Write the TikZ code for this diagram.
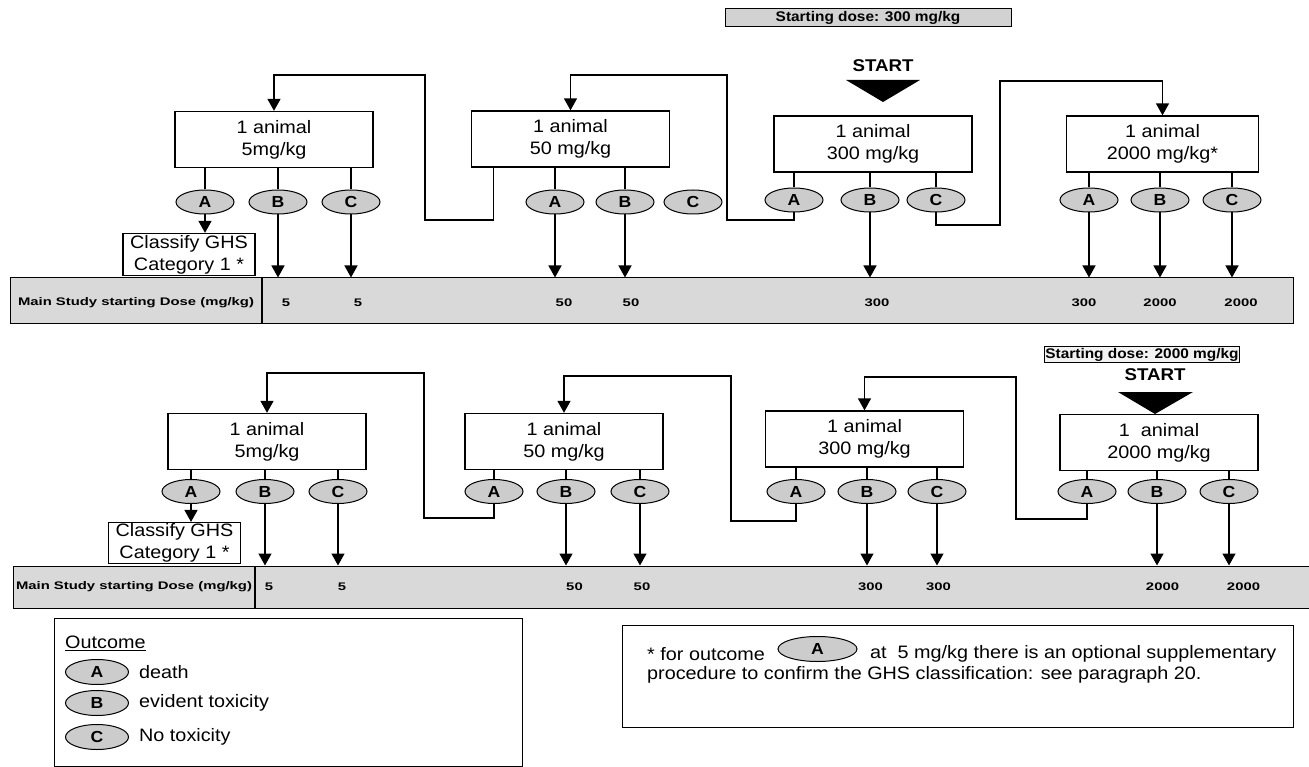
\documentclass[tikz,border=0pt]{standalone}
\usepackage{fontspec}
\setmainfont{Liberation Sans}[FakeStretch=1.1]
\newfontfamily\bandfont{Liberation Sans}[FakeStretch=1.35]
\usetikzlibrary{arrows.meta,shapes.geometric}

\begin{document}
\begin{tikzpicture}[x=1pt, y=-1pt,
    txt/.style={font=\fontsize{18}{22}\selectfont},
    lbl/.style={txt, anchor=west, inner sep=0pt},
    box/.style={draw, line width=1.3pt, minimum width=198pt, minimum height=56pt,
      align=center, inner sep=1pt, txt},
    clbox/.style={box, minimum width=132pt, minimum height=42pt},
    oc/.style={ellipse, draw, line width=1pt, fill=gray!40, minimum width=58pt,
      minimum height=24pt, inner sep=0pt, font=\fontsize{16}{16}\selectfont\bfseries},
    band/.style={draw, line width=1pt, fill=gray!30, inner sep=0pt},
    num/.style={font=\bandfont\bfseries\fontsize{11}{13}\selectfont},
    dosebox/.style={draw, line width=1pt, inner sep=1pt,
      font=\fontsize{14}{15}\selectfont\bfseries},
    gotext/.style={font=\fontsize{17}{17}\selectfont\bfseries},
    lnk/.style={line width=1.4pt},
    arr/.style={lnk, -{Triangle[length=12pt,width=13pt]}}]
  \path[use as bounding box] (0,0) rectangle (1309,767);

  % upper scheme: starting dose 300 mg/kg
  \node[dosebox, fill=gray!35, minimum width=286pt, minimum height=18pt] (sd1) at (868,18)
       {Starting dose: 300 mg/kg};
  \node[gotext] (go1) at (883,66) {START};
  \fill (846,80) -- (920,80) -- (883,102) -- cycle;

  \node[box] (m5)    at (274,139.5) {1 animal\\5mg/kg};
  \node[box] (m50)   at (570.5,139) {1 animal\\50 mg/kg};
  \node[box] (m300)  at (873,144)   {1 animal\\300 mg/kg};
  \node[box, minimum width=192pt] (m2000) at (1162.5,144) {1 animal\\2000 mg/kg*};

  \foreach \n/\x/\y/\l in {m5a/205/202/A, m5b/278/202/B, m5c/351/202/C,
      m50a/555/202/A, m50b/625/202/B, m50c/693/202/C,
      m300a/794/200/A, m300b/870/200/B, m300c/936/200/C,
      m2000a/1089/200/A, m2000b/1160/200/B, m2000c/1232/200/C}
    \node[oc] (\n) at (\x,\y) {\l};

  \node[clbox] (cl1) at (189,254.5) {Classify GHS\\Category 1 *};
  \node[band, minimum width=1283pt, minimum height=45pt] (band1) at (651.5,300.5) {};
  \draw[lnk] (262,278) -- (262,323);
  \node[num] (lab1) at (136,303) {Main Study starting Dose (mg/kg)};
  \foreach \x/\v [count=\i] in {286/5, 358/5, 564/50, 631/50, 877/300, 1084/300,
      1160/2000, 1241/2000}
    \node[num] (d1\i) at (\x,303) {\v};

  \foreach \o/\m in {m5a/m5, m5b/m5, m5c/m5, m50a/m50, m50b/m50,
      m300a/m300, m300b/m300, m300c/m300, m2000a/m2000, m2000b/m2000, m2000c/m2000}
    \draw[lnk] (\o |- \m.south) -- (\o);
  \draw[arr] (m5a) -- (m5a |- cl1.north);
  \foreach \o in {m5b, m5c, m50a, m50b, m300b, m2000a, m2000b, m2000c}
    \draw[arr] (\o) -- (\o |- band1.north);

  \draw[arr] ([xshift=-77pt]m50.south) |- (425,220) |- (m5.north |- 0,75) -- (m5.north);
  \draw[arr] (m300a.south) |- (727,220) |- (m50.north |- 0,75) -- (m50.north);
  \draw[arr] (m300c.south) |- (1000,225) |- (m2000.north |- 0,81) -- (m2000.north);

  % lower scheme: starting dose 2000 mg/kg
  \node[dosebox, fill=gray!10] (sd2) at (1142,354.5) {Starting dose: 2000 mg/kg};
  \node[gotext] (go2) at (1155,375) {START};
  \fill (1118,392) -- (1193,392) -- (1155,414) -- cycle;

  \node[box] (n5)    at (267,441.5)  {1 animal\\5mg/kg};
  \node[box] (n50)   at (564,441.5)  {1 animal\\50 mg/kg};
  \node[box] (n300)  at (864.5,439)  {1 animal\\300 mg/kg};
  \node[box] (n2000) at (1159,442.5) {1\ \ animal\\2000 mg/kg};

  \foreach \n/\x/\l in {n5a/191/A, n5b/265/B, n5c/338/C,
      n50a/494/A, n50b/566/B, n50c/640/C,
      n300a/796/A, n300b/867/B, n300c/937/C,
      n2000a/1087/A, n2000b/1157/B, n2000c/1229/C}
    \node[oc] (\n) at (\x,491.5) {\l};

  \node[clbox, minimum height=40pt] (cl2) at (174.5,543) {Classify GHS\\Category 1 *};
  \node[band, minimum width=1302pt, minimum height=42pt] (band2) at (664,587) {};
  \draw[lnk] (255,566) -- (255,608);
  \node[num] (lab2) at (134,587) {Main Study starting Dose (mg/kg)};
  \foreach \x/\v [count=\i] in {269/5, 342/5, 574.5/50, 642/50, 870.5/300, 938.5/300,
      1162.5/2000, 1243.5/2000}
    \node[num] (d2\i) at (\x,587) {\v};

  \foreach \m in {n5, n50, n300, n2000}
    \foreach \o in {a, b, c}
      \draw[lnk] (\m\o |- \m.south) -- (\m\o);
  \draw[arr] (n5a) -- (n5a |- cl2.north);
  \foreach \o in {n5b, n5c, n50b, n50c, n300b, n300c, n2000b, n2000c}
    \draw[arr] (\o) -- (\o |- band2.north);

  \draw[arr] (n50a.south) |- (424,518) |- (n5.north |- 0,373) -- (n5.north);
  \draw[arr] (n300a.south) |- (731,521) |- (n50.north |- 0,376) -- (n50.north);
  \draw[arr] (n2000a.south) |- (1016,519) |- (n300.north |- 0,377) -- (n300.north);

  % key and footnote
  \node[draw, line width=1pt, minimum width=468pt, minimum height=148pt] (key) at (288,692) {};
  \node[lbl] (kt) at (65,643) {\underline{Outcome}};
  \foreach \l/\y/\t in {A/672/death, B/703/evident toxicity, C/737/No toxicity} {
    \node[oc, minimum width=63pt, minimum height=25pt] (k\l) at (97,\y) {\l};
    \node[lbl] (kt\l) at (139,\y) {\t};
  }

  \node[draw, line width=1pt, minimum width=671pt, minimum height=102pt] (note) at (957.5,676) {};
  \node[lbl] (nt1) at (647,654) {* for outcome};
  \node[oc, minimum width=79pt, minimum height=25pt] (nA) at (817.5,649) {A};
  \node[lbl] (nt2) at (870,654) {at\ \ 5 mg/kg there is an optional supplementary};
  \node[lbl] (nt3) at (647,675) {procedure to confirm the GHS classification: see paragraph 20.};
\end{tikzpicture}
\end{document}
